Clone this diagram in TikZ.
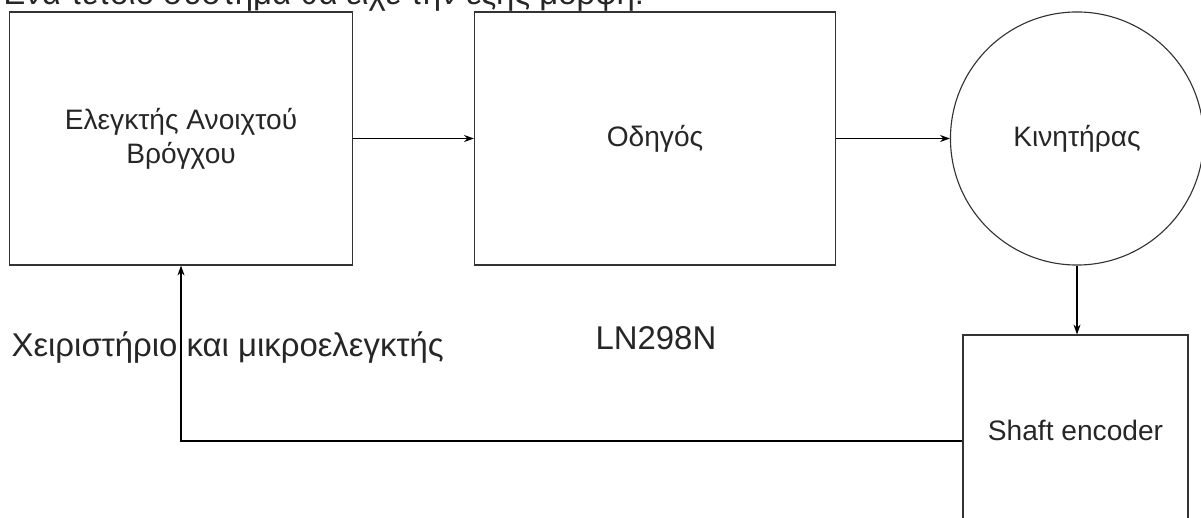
\documentclass[tikz,border=0pt]{standalone}
\usepackage{fontspec}
\setmainfont{Liberation Sans}
\usetikzlibrary{arrows.meta}

\begin{document}
\begin{tikzpicture}[x=0.025cm,y=-0.025cm,>={Stealth[length=7pt,width=5pt]},line width=0.8pt,
  every node/.style={inner sep=0pt,text=black!85},
  blk/.style={draw=black!80,minimum height=6.325cm,align=center,font=\fontsize{20}{24}\selectfont},
  lbl/.style={anchor=base west,font=\fontsize{23.4}{27}\selectfont}]
\useasboundingbox (0,0) rectangle (1201,518);
\clip (0,0) rectangle (1201,518);
\node[lbl] (t) at (-1,5) {Ένα τέτοιο σύστημα θα είχε την εξής μορφή:};
\node[blk,minimum width=8.575cm] (c) at (181,138.5) {Ελεγκτής Ανοιχτού\\Βρόγχου};
\node[blk,minimum width=9.025cm] (d) at (655,138.5) {Οδηγός};
\node[blk,circle,minimum size=6.325cm] (m) at (1077,138.5) {Κινητήρας};
\node[blk,minimum width=5.625cm,minimum height=4.75cm] (s) at (1075.5,430) {Shaft encoder};
\draw[->] (c.east) -- (d.west);
\draw[->] (d.east) -- (m.west);
\draw[->] (m.south) -- (m.south |- s.north);
\draw[->] ([yshift=-0.275cm]s.west) -| (c.south);
\node[lbl] (h) at (11,356) {Χειριστήριο και μικροελεγκτής};
\node[lbl] (l) at (595,349) {LN298N};
\end{tikzpicture}
\end{document}
